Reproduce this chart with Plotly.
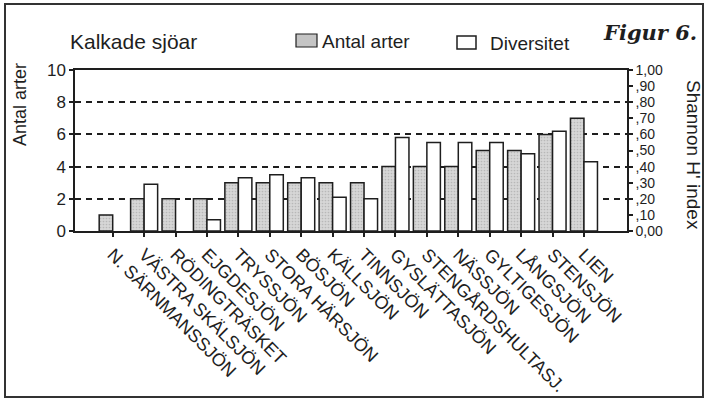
import plotly.graph_objects as go

# ---- data ----
lakes = ["N. SÄRNMANSSJÖN", "VÄSTRA SKÄLSJÖN", "RÖDINGTRÄSKET", "EJGDESJÖN",
         "TRYSSJÖN", "STORA HÄRSJÖN", "BÖSJÖN", "KÄLLSJÖN", "TINNSJÖN",
         "GYSLÄTTASJÖN", "STENGÅRDSHULTASJ.", "NÄSSJÖN", "GYLTIGESJÖN",
         "LÅNGSJÖN", "STENSJÖN", "LIEN"]
antal_arter = [1, 2, 2, 2, 3, 3, 3, 3, 3, 4, 4, 4, 5, 5, 6, 7]
diversitet = [None, 0.29, None, 0.07, 0.33, 0.35, 0.33, 0.21, 0.20,
              0.58, 0.55, 0.55, 0.55, 0.48, 0.62, 0.43]
left_ticks = [0, 2, 4, 6, 8, 10]
right_tickvals = [0, 0.1, 0.2, 0.3, 0.4, 0.5, 0.6, 0.7, 0.8, 0.9, 1.0]
right_ticktext = ["0,00", ",10", ",20", ",30", ",40", ",50", ",60", ",70", ",80", ",90", "1,00"]

W, H = 705, 402
L, R, T, B = 75, 78, 70, 171
PW, PH = W - L - R, H - T - B


def px(x):
    return (x - L) / PW


def py(y):
    return (H - B - y) / PH


FONT = "Liberation Sans, Arial, sans-serif"
INK = "#1e1e1e"

fig = go.Figure()
fig.add_trace(go.Bar(
    x=lakes, y=antal_arter, name="Antal arter", offsetgroup="a",
    marker=dict(color="#cacaca", line=dict(color=INK, width=1.5),
                pattern=dict(shape=".", fgcolor="#9a9a9a", bgcolor="#d6d6d6",
                             size=3, solidity=0.25)),
    showlegend=False))
fig.add_trace(go.Bar(
    x=lakes, y=diversitet, name="Diversitet", offsetgroup="b", yaxis="y2",
    marker=dict(color="white", line=dict(color=INK, width=1.5)),
    showlegend=False))

fig.update_layout(
    width=W, height=H,
    margin=dict(l=L, r=R, t=T, b=B, autoexpand=False),
    paper_bgcolor="white", plot_bgcolor="white",
    barmode="group", bargap=0.14, bargroupgap=0,
    font=dict(family=FONT, color=INK),
    xaxis=dict(type="category", range=[-1.2, 16.37],
               showline=True, linecolor=INK, linewidth=2, mirror=True,
               ticks="outside", ticklen=4, tickcolor=INK, tickwidth=1.5,
               tickangle=45, tickfont=dict(size=18, family=FONT, color=INK),
               showgrid=False),
    yaxis=dict(range=[0, 10], tickvals=left_ticks,
               showline=True, linecolor=INK, linewidth=1.5,
               ticks="outside", ticklen=4, tickcolor=INK, tickwidth=1.5,
               tickfont=dict(size=17, family=FONT, color=INK),
               showgrid=True, gridcolor=INK, gridwidth=2, griddash="6px,5px",
               zeroline=False),
    yaxis2=dict(range=[0, 1], overlaying="y", side="right",
                tickvals=right_tickvals, ticktext=right_ticktext,
                showline=True, linecolor=INK, linewidth=1.5,
                ticks="outside", ticklen=4, tickcolor=INK, tickwidth=1.5,
                tickfont=dict(size=14, family=FONT, color=INK),
                showgrid=False, zeroline=False),
)

ann = [
    dict(text="Kalkade sjöar", x=px(68), y=py(42), xanchor="left", yanchor="middle",
         font=dict(size=21)),
    dict(text="Antal arter", x=px(320), y=py(41), xanchor="left", yanchor="middle",
         font=dict(size=19)),
    dict(text="Diversitet", x=px(488), y=py(43), xanchor="left", yanchor="middle",
         font=dict(size=19)),
    dict(text="<b><i>Figur 6.</i></b>", x=px(699), y=py(33), xanchor="right", yanchor="middle",
         font=dict(size=21, family="DejaVu Serif, serif")),
    dict(text="Antal arter", x=px(20), y=py(105), xanchor="center", yanchor="middle",
         textangle=-90, font=dict(size=18)),
    dict(text="Shannon H' index", x=px(694), y=py(155), xanchor="center", yanchor="middle",
         textangle=90, font=dict(size=19)),
]
for a in ann:
    a.update(xref="paper", yref="paper", showarrow=False)
fig.update_layout(annotations=ann)

shapes = [
    # legend swatches
    dict(type="rect", x0=px(296), x1=px(317), y0=py(47), y1=py(34),
         fillcolor="#c4c4c4", line=dict(color=INK, width=1.2)),
    dict(type="rect", x0=px(457), x1=px(476), y0=py(49), y1=py(36),
         fillcolor="white", line=dict(color=INK, width=1.5)),
    # outer frame
    dict(type="rect", x0=px(5), x1=px(703), y0=py(397), y1=py(4),
         fillcolor="rgba(0,0,0,0)", line=dict(color="#333", width=2)),
]
for s in shapes:
    s.update(xref="paper", yref="paper")
fig.update_layout(shapes=shapes)

fig.write_html("out.html", config={"displayModeBar": False},
               post_script="document.body.style.margin='0';document.body.style.overflow='hidden';")
